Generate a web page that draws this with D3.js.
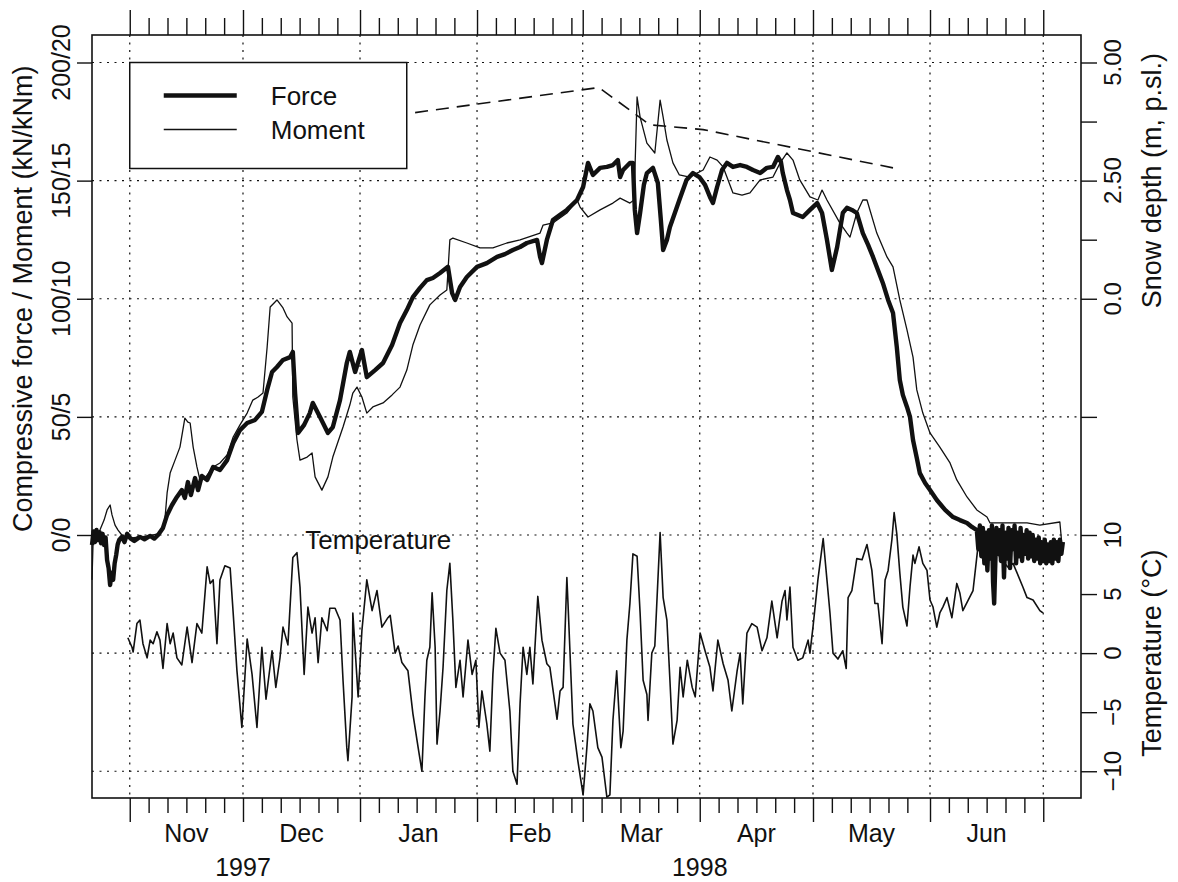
<!DOCTYPE html>
<html>
<head>
<meta charset="utf-8">
<script src="https://cdn.jsdelivr.net/npm/d3@7"></script>
<style>
  html, body { margin: 0; background: #fff; }
  svg { display: block; }
  text { font-family: "Liberation Sans", Arial, Helvetica, sans-serif; fill: #111; }
</style>
</head>
<body>
<svg id="chart" width="1178" height="882"></svg>
<script>
// Record starts 22 Oct 1997; every series is [days since start, value]
const recordStart = Date.UTC(1997, 9, 22);
const recordEnd = Date.UTC(1998, 6, 11);

// Compressive force (kN)
const forceSeries = [[0,-4.2],[0.4,1.5],[0.8,-3.0],[1.2,2.1],[1.6,-2.1],[2.0,1.2],[2.4,-3.5],[2.8,0.5],[3.2,-4.2],[3.6,-1.0],[4.0,-10.6],[4.4,-14.0],[4.8,-21.2],[5.2,-16.0],[5.6,-19.0],[6.0,-12.0],[6.4,-8.5],[6.8,-4.0],[7.2,-2.1],[7.9,-0.8],[8.6,-3.0],[9.3,0.5],[10.1,-1.3],[11.2,-2.5],[12.7,-0.8],[13.9,-1.8],[15.4,-0.4],[16.5,-1.5],[17.5,0],[18.8,3.0],[19.9,8.5],[21.2,12.7],[22.5,16.1],[23.8,19.0],[24.6,15.7],[25.4,22.4],[26.2,16.9],[27.3,24.1],[28.1,19.0],[29.1,25.0],[30.5,23.3],[32.1,28.8],[33.9,27.5],[35.8,31.7],[37.4,38.9],[39.2,44.4],[41.1,47.4],[43.2,48.7],[45.0,52.1],[46.4,61.4],[47.7,69.0],[49.0,71.1],[50.6,74.1],[52.5,75.3],[53.2,77.5],[53.8,60.1],[54.6,43.2],[56.2,46.6],[57.7,51.6],[58.5,55.9],[60.4,49.9],[62.5,43.2],[63.8,45.7],[65.7,57.1],[67.5,72.8],[68.3,77.5],[69.7,69.0],[71.5,78.3],[72.8,66.8],[75.0,69.8],[77.1,72.8],[79.5,80.4],[81.6,89.7],[83.4,95.2],[85.0,100.7],[86.9,104.6],[88.7,107.9],[90.3,108.8],[92.2,110.9],[94.3,113.5],[95.4,102.4],[96.2,99.5],[97.5,105.0],[99.3,109.2],[102.0,113.5],[104.6,115.1],[107.3,117.7],[109.4,118.9],[111.5,120.6],[113.4,121.9],[115.2,123.6],[117.9,124.9],[118.7,117.7],[119.2,115.1],[120.5,124.9],[122.1,133.3],[124.0,135.5],[125.8,137.6],[128.5,141.8],[130.1,147.3],[131.4,157.5],[132.7,152.4],[134.6,155.4],[136.4,155.8],[138.0,156.6],[139.3,158.7],[139.9,151.5],[140.7,154.5],[142.5,157.5],[143.3,157.5],[143.8,137.6],[144.4,127.8],[145.2,136.3],[146.2,148.2],[147.0,153.2],[148.6,155.4],[149.9,149.0],[150.7,133.3],[151.3,120.6],[152.3,124.9],[153.1,130.4],[154.4,136.3],[155.6,141.8],[157.5,150.3],[159.2,153.2],[160.9,151.5],[162.4,148.2],[163.7,143.1],[164.5,140.5],[165.6,147.3],[166.9,154.5],[168.2,157.5],[169.8,155.8],[171.7,156.6],[173.5,155.8],[175.1,154.5],[177.0,153.2],[178.8,155.4],[180.4,155.8],[181.7,160.0],[182.5,157.9],[183.0,153.2],[184.1,146.0],[184.9,141.8],[185.7,136.3],[188.3,134.6],[190.2,137.6],[192.1,140.5],[193.4,136.3],[194.7,124.9],[196.0,112.2],[197.4,121.9],[198.9,136.3],[200.0,138.5],[201.3,137.6],[202.6,136.3],[204.2,127.8],[205.6,122.8],[206.9,117.7],[208.2,112.2],[209.5,106.7],[210.9,99.5],[212.2,94.0],[213.2,79.6],[214.0,65.6],[214.8,59.3],[215.9,54.2],[216.7,50.0],[217.5,40.2],[218.5,32.6],[219.3,26.2],[220.7,22.0],[222.0,19.0],[223.8,14.8],[226.0,10.6],[228.1,7.6],[229.9,6.3],[231.8,5.1],[233.1,3.4],[234.4,2.1],[234.8,-6],[235.2,4],[235.6,-9],[236.0,3],[236.4,-12],[236.8,1],[237.2,-15],[237.6,2],[238.0,-10],[238.4,4],[238.7,-20],[239.0,-29],[239.3,-12],[239.6,3],[240.0,-8],[240.4,2],[240.8,-11],[241.2,4],[241.6,-18],[242.0,1],[242.4,-10],[242.8,3],[243.2,-14],[243.6,2],[244.0,-6],[244.4,4],[244.8,-12],[245.2,1],[245.6,-9],[246.0,3],[246.4,-11],[246.8,0],[247.2,-8],[247.6,2],[248.0,-10],[248.4,1],[248.8,-9],[249.2,0],[249.6,-11],[250.0,-2],[250.4,-10],[250.8,-1],[251.2,-12],[251.6,-3],[252.0,-11],[252.4,-2],[252.8,-12],[253.2,-4],[253.6,-11],[254.0,-3],[254.4,-12],[254.8,-2],[255.2,-10],[255.6,-3],[256.0,-11],[256.4,-2],[256.8,-8],[257.2,-3]];

// Bending moment (kNm x 10, shares the force axis)
const momentSeries = [[0,-19.0],[0.3,-2.1],[1.1,0],[2.1,2.1],[3.2,6.3],[4.0,10.6],[4.8,12.7],[5.3,8.5],[6.1,4.2],[6.9,2.1],[7.9,0],[10.1,-1.3],[12.7,-0.8],[15.4,-0.4],[18.0,0.8],[19.3,6.3],[19.9,17.8],[20.7,26.2],[22.0,31.7],[23.3,37.2],[24.6,49.5],[25.4,47.8],[26.0,47.4],[26.8,37.2],[27.8,28.8],[28.6,23.3],[29.9,24.1],[32.1,28.8],[33.9,30.5],[35.8,33.9],[37.4,41.5],[39.2,46.6],[41.1,51.6],[42.6,57.1],[44.0,58.4],[45.3,60.1],[46.4,79.6],[47.2,96.5],[49.0,99.5],[50.6,96.1],[51.7,92.3],[53.0,89.7],[53.2,58.4],[54.3,40.2],[55.1,31.7],[57.0,33.0],[58.3,34.7],[59.1,24.6],[60.9,19.0],[62.5,24.6],[63.8,33.0],[66.5,45.7],[68.3,55.0],[69.1,60.1],[70.2,62.6],[71.5,58.4],[72.8,51.6],[74.4,54.2],[77.1,55.9],[79.5,59.3],[81.6,62.6],[83.4,69.8],[85.0,80.4],[86.9,88.9],[89.5,97.4],[92.2,101.6],[94.0,103.7],[94.8,124.9],[95.6,125.7],[99.3,123.6],[102.8,121.5],[106.2,121.5],[109.9,123.6],[113.4,124.9],[118.7,127.8],[119.5,131.2],[122.1,132.1],[125.8,136.3],[128.5,141.8],[129.3,138.8],[131.4,134.6],[134.6,137.6],[138.0,140.5],[139.9,142.6],[142.5,140.5],[143.6,141.8],[144.4,185.4],[145.2,176.9],[147.0,165.9],[149.1,161.7],[150.5,184.1],[151.3,176.9],[152.3,167.2],[153.9,157.5],[155.6,152.4],[158.3,151.5],[160.3,153.2],[161.9,154.5],[163.7,160.0],[165.6,158.7],[167.2,155.8],[168.2,151.5],[169.8,144.8],[172.2,143.9],[174.3,144.8],[177.0,150.3],[180.4,151.5],[182.3,157.5],[184.1,161.7],[185.7,158.7],[187.5,150.3],[190.2,143.1],[192.3,141.8],[193.4,146.0],[194.7,141.8],[198.1,132.1],[200.0,127.8],[200.8,126.1],[202.6,136.3],[204.2,141.8],[205.3,141.8],[207.9,127.8],[210.6,117.7],[212.2,113.5],[214.0,99.5],[215.9,86.8],[217.5,75.3],[218.5,61.4],[220.1,51.6],[222.0,43.2],[224.6,37.2],[227.3,30.5],[229.1,23.3],[231.8,16.1],[234.4,10.6],[237.1,7.6],[237.9,5.1],[240.5,5.1],[247.7,5.1],[251.1,4.2],[256.4,5.5],[256.9,-3.4]];

// Air temperature (°C)
const temperatureSeries = [[9.5,1.3],[10.6,0.5],[10.9,0.1],[11.9,2.5],[12.7,2.8],[13.5,0.8],[14.6,-0.4],[15.4,1.1],[16.2,0.8],[17.2,1.8],[18.0,1.1],[18.8,-1.3],[19.9,2.5],[20.7,0.8],[21.5,1.7],[22.5,-0.4],[23.8,-1.0],[25.2,2.2],[26.5,-0.8],[27.8,2.5],[29.1,1.7],[30.5,7.3],[31.3,5.9],[32.1,6.2],[33.1,0.8],[33.9,6.2],[35.2,7.4],[36.6,7.2],[37.4,3.4],[38.4,-1.5],[39.7,-6.3],[41.1,1.2],[42.4,-1.8],[43.7,-6.3],[45.0,0.5],[46.1,-3.9],[47.7,0.2],[48.7,-2.9],[49.8,-0.4],[50.6,2.2],[51.9,0.7],[53.2,8.1],[54.3,8.5],[55.1,5.6],[56.2,-1.8],[57.2,3.9],[58.3,1.7],[59.1,3.0],[59.9,-0.8],[60.9,3.0],[62.3,1.9],[63.0,3.8],[64.4,3.8],[65.7,2.8],[66.5,-2.3],[67.5,-8.0],[67.8,-9.1],[68.9,-3.7],[69.1,3.4],[70.5,-3.7],[71.5,1.9],[72.8,6.2],[74.2,3.6],[75.5,5.3],[76.8,2.2],[78.4,3.0],[79.0,3.2],[80.3,0.0],[81.1,0.6],[82.1,-0.8],[83.7,-1.5],[85.0,-5.1],[86.4,-8.0],[87.4,-10.0],[88.2,-3.7],[88.7,-0.6],[89.5,0.5],[90.1,5.1],[90.9,0.5],[91.4,-7.7],[92.2,-4.9],[93.0,-1.2],[94.0,5.3],[94.8,7.6],[95.6,2.8],[96.4,-2.9],[97.5,-0.6],[98.3,-3.7],[99.6,1.1],[100.7,-1.8],[101.7,-0.6],[102.5,-6.3],[103.3,-3.2],[104.6,-6.0],[105.4,-8.3],[106.2,-1.8],[107.0,2.1],[108.1,0.0],[109.4,-0.6],[110.7,-4.9],[111.5,-10.0],[112.6,-11.1],[113.4,-4.3],[114.2,0.5],[115.2,-1.8],[116.0,0.5],[116.8,-2.6],[118.1,4.8],[119.2,1.1],[120.5,-0.9],[121.3,-1.2],[123.2,-5.6],[124.0,-3.2],[124.8,-2.9],[125.8,6.4],[126.1,4.2],[127.4,-6.0],[128.7,-9.1],[130.1,-12.0],[131.1,-8.0],[131.9,-4.3],[132.7,-4.9],[134.0,-8.0],[135.1,-8.8],[136.4,-12.2],[137.2,-12.0],[138.0,-5.7],[139.0,-1.5],[140.1,-8.0],[140.7,-6.6],[141.7,1.1],[142.5,4.2],[143.3,8.4],[144.4,8.2],[145.2,3.4],[146.0,-2.3],[147.0,-3.5],[147.3,-5.7],[148.3,0.0],[149.1,0.6],[150.5,10.2],[151.3,4.7],[152.3,2.8],[153.1,-2.3],[153.9,-7.7],[155.0,-5.7],[155.8,-1.2],[156.6,-3.7],[157.7,-0.6],[159.0,-2.9],[159.8,-3.7],[161.1,1.7],[162.4,0.2],[163.7,-1.2],[164.5,-3.2],[165.8,1.1],[167.2,-0.9],[168.5,-2.3],[169.5,-4.9],[170.9,-1.5],[171.7,0.0],[172.4,-4.3],[173.5,1.7],[174.8,2.5],[176.2,2.2],[177.5,0.2],[178.8,1.3],[180.1,4.4],[181.5,1.3],[182.8,4.4],[183.6,5.3],[184.1,2.8],[184.9,5.6],[185.7,0.5],[187.0,-0.6],[188.3,-0.4],[189.7,1.1],[190.2,0.0],[191.0,2.2],[192.3,6.2],[193.7,9.7],[194.7,6.2],[195.5,3.4],[196.3,0.0],[197.6,-0.5],[198.9,0.2],[199.8,-1.3],[200.3,4.7],[201.3,5.3],[202.6,8.0],[204.0,7.9],[205.3,9.2],[206.6,7.0],[207.4,4.2],[208.2,4.2],[209.3,0.8],[210.1,6.2],[210.9,7.0],[211.9,9.6],[212.5,11.9],[213.2,10.1],[214.0,6.8],[214.8,3.9],[215.9,2.3],[216.7,5.6],[217.5,8.3],[218.0,7.6],[219.1,9.0],[220.1,7.6],[221.2,7.0],[222.0,4.5],[222.8,3.9],[223.8,2.2],[224.6,3.4],[225.4,3.9],[226.5,4.7],[227.8,3.0],[229.1,5.9],[229.9,5.1],[230.7,3.6],[233.4,5.3],[234.7,9.0],[236.5,9.5],[238.7,9.6],[240.5,8.1],[242.6,7.3],[244.0,7.6],[246.6,5.6],[247.7,4.7],[249.3,4.5],[251.1,3.6],[251.9,3.4]];

// Snow depth (m, p.sl.)
const snowSeries = [[85.6,3.94],[134.3,4.47],[147.8,3.68],[161.9,3.58],[212.2,2.77]];

// Axis ticks and labels
const loadTicks = [0, 50, 100, 150, 200];
const loadTickLabels = ["0/0", "50/5", "100/10", "150/15", "200/20"];
const snowTicks = [-2.5, 1.25, 3.75, 0, 2.5, 5];
const snowTickLabels = ["", "", "", "0.0", "2.50", "5.00"];
const tempTicks = [-10, -5, 0, 5, 10];
const tempTickLabels = ["\u221210", "\u22125", "0", "5", "10"];
const tempGrid = [0, -10];
const minorTickDays = [1, 6, 11, 16, 21, 26];
const yearLabels = [["1997", "1997-12-01"], ["1998", "1998-04-01"]];
const legendItems = [["Force", 4.4], ["Moment", 1.3]];

const plot = { left: 92, right: 1081, top: 35, bottom: 798 };
const svg = d3.select("#chart");
const ink = "#111";

const x = d3.scaleUtc()
  .domain([new Date(recordStart), new Date(recordEnd)])
  .range([plot.left, plot.right]);
const yLoad = d3.scaleLinear().domain([0, 200]).range([535, 62.5]);
const ySnow = d3.scaleLinear().domain([0, 5]).range([yLoad(100), yLoad(200)]);
const yTemp = d3.scaleLinear().domain([-10, 10]).range([yLoad(-100), yLoad(0)]);
const dayToDate = d => new Date(recordStart + d * 864e5);

// Time ticks: month starts are long, every fifth day short
const firstTick = new Date(Date.UTC(1997, 10, 1));
const lastTick = new Date(Date.UTC(1998, 6, 1));
const allDays = d3.utcDay.range(firstTick, d3.utcDay.offset(lastTick, 1));
const monthStarts = allDays.filter(d => d.getUTCDate() === 1);
const minorDays = allDays.filter(d => d.getUTCDate() !== 1 && minorTickDays.includes(d.getUTCDate()));

// Grid
const grid = svg.append("g").attr("stroke", ink).attr("stroke-width", 1.2)
  .attr("stroke-dasharray", "2,5.5");
grid.selectAll("line.v").data(monthStarts).join("line")
  .attr("x1", d => x(d)).attr("x2", d => x(d))
  .attr("y1", plot.top).attr("y2", plot.bottom);
grid.selectAll("line.h").data(loadTicks.map(yLoad).concat(tempGrid.map(yTemp))).join("line")
  .attr("x1", plot.left).attr("x2", plot.right)
  .attr("y1", d => d).attr("y2", d => d);

// Axes (ticks only; the frame is drawn separately)
function timeAxis(gen, y, days, size) {
  const g = svg.append("g").attr("transform", `translate(0,${y})`)
    .call(gen(x).tickValues(days).tickSize(size).tickFormat(""));
  g.select(".domain").remove();
  g.selectAll(".tick line").attr("stroke", ink).attr("stroke-width", 1.4);
}
timeAxis(d3.axisBottom, plot.bottom, monthStarts, 24);
timeAxis(d3.axisBottom, plot.bottom, minorDays, 15);
timeAxis(d3.axisTop, plot.top, monthStarts, 25);
timeAxis(d3.axisTop, plot.top, minorDays, 17);

function valueAxis(gen, xPos, scale, ticks, size) {
  const g = svg.append("g").attr("transform", `translate(${xPos},0)`)
    .call(gen(scale).tickValues(ticks).tickSize(size).tickFormat(""));
  g.select(".domain").remove();
  g.selectAll(".tick line").attr("stroke", ink).attr("stroke-width", 1.4);
}
valueAxis(d3.axisLeft, plot.left, yLoad, loadTicks, 15);
valueAxis(d3.axisRight, plot.right, ySnow, snowTicks, 16);
valueAxis(d3.axisRight, plot.right, yTemp, tempTicks, 16);

// Rotated tick labels
function rotatedLabels(values, labels, scale, xBase, size) {
  svg.append("g").selectAll("text").data(values).join("text")
    .attr("transform", (d) => `translate(${xBase},${scale(d)}) rotate(-90)`)
    .attr("text-anchor", "middle").attr("font-size", size)
    .text((d, i) => labels[i]);
}
rotatedLabels(loadTicks, loadTickLabels, yLoad, 70, 25);
rotatedLabels(snowTicks, snowTickLabels, ySnow, 1121, 24);
rotatedLabels(tempTicks, tempTickLabels, yTemp, 1121, 24);

// Axis titles
function rotatedTitle(text, xBase, yCenter) {
  svg.append("text")
    .attr("transform", `translate(${xBase},${yCenter}) rotate(-90)`)
    .attr("text-anchor", "middle").attr("font-size", 27).text(text);
}
rotatedTitle("Compressive force / Moment (kN/kNm)", 32, yLoad(100));
rotatedTitle("Snow depth (m, p.sl.)", 1161, ySnow(2.5));
rotatedTitle("Temperature (\u00B0C)", 1161, yTemp(0));

// Month and year labels
const monthLabelDates = monthStarts.slice(0, -1);
svg.append("g").selectAll("text").data(monthLabelDates).join("text")
  .attr("x", d => (x(d) + x(d3.utcMonth.offset(d, 1))) / 2)
  .attr("y", 842).attr("text-anchor", "middle").attr("font-size", 25)
  .text(d3.utcFormat("%b"));
svg.append("g").selectAll("text").data(yearLabels).join("text")
  .attr("x", d => x(new Date(d[1] + "T00:00:00Z")))
  .attr("y", 876).attr("text-anchor", "middle").attr("font-size", 25)
  .text(d => d[0]);

// Series
const loadLine = d3.line().x(d => x(dayToDate(d[0]))).y(d => yLoad(d[1]));
const tempLine = d3.line().x(d => x(dayToDate(d[0]))).y(d => yTemp(d[1]));
const snowLine = d3.line().x(d => x(dayToDate(d[0]))).y(d => ySnow(d[1]));

svg.append("path").datum(temperatureSeries).attr("d", tempLine)
  .attr("fill", "none").attr("stroke", ink).attr("stroke-width", 1.6)
  .attr("stroke-linejoin", "round");
svg.append("path").datum(momentSeries).attr("d", loadLine)
  .attr("fill", "none").attr("stroke", ink).attr("stroke-width", 1.3)
  .attr("stroke-linejoin", "round");
svg.append("path").datum(forceSeries).attr("d", loadLine)
  .attr("fill", "none").attr("stroke", ink).attr("stroke-width", 4.4)
  .attr("stroke-linejoin", "round");
svg.append("path").datum(snowSeries).attr("d", snowLine)
  .attr("fill", "none").attr("stroke", ink).attr("stroke-width", 1.6)
  .attr("stroke-dasharray", "13,8");

svg.append("text").attr("x", x(dayToDate(56.5))).attr("y", yTemp(8.8))
  .attr("font-size", 26).text("Temperature");

// Legend, anchored at 1 Nov / 200
const lgX = x(firstTick), lgY = yLoad(200);
const legend = svg.append("g").attr("transform", `translate(${lgX},${lgY})`);
legend.append("rect").attr("width", 277).attr("height", 106)
  .attr("fill", "#fff").attr("stroke", ink).attr("stroke-width", 1.5);
legendItems.forEach(([name, w], i) => {
  const ly = 33 + i * 34;
  legend.append("line").attr("x1", 34).attr("x2", 107).attr("y1", ly).attr("y2", ly)
    .attr("stroke", ink).attr("stroke-width", w);
  legend.append("text").attr("x", 141).attr("y", ly + 9).attr("font-size", 26).text(name);
});

// Frame
svg.append("rect").attr("x", plot.left).attr("y", plot.top)
  .attr("width", plot.right - plot.left).attr("height", plot.bottom - plot.top)
  .attr("fill", "none").attr("stroke", ink).attr("stroke-width", 1.6);
</script>
</body>
</html>
